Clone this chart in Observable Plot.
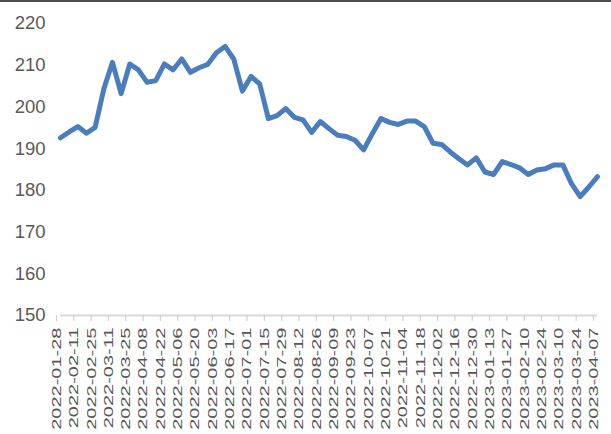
<!DOCTYPE html>
<html>
<head>
<meta charset="utf-8">
<script src="https://cdn.jsdelivr.net/npm/d3@7"></script>
<script src="https://cdn.jsdelivr.net/npm/@observablehq/plot@0.6"></script>
<style>
  html, body { margin: 0; padding: 0; background: #fff; }
  #wrap { position: relative; width: 611px; height: 434px; overflow: hidden; }
  #topline { position: absolute; left: 0; top: 0; width: 611px; height: 2px; background: #4d4d4d; }
</style>
</head>
<body>
<div id="wrap"><div id="topline"></div></div>
<script>
const dates = [
  "2022-01-28","2022-02-04","2022-02-11","2022-02-18","2022-02-25","2022-03-04","2022-03-11","2022-03-18",
  "2022-03-25","2022-04-01","2022-04-08","2022-04-15","2022-04-22","2022-04-29","2022-05-06","2022-05-13",
  "2022-05-20","2022-05-27","2022-06-03","2022-06-10","2022-06-17","2022-06-24","2022-07-01","2022-07-08",
  "2022-07-15","2022-07-22","2022-07-29","2022-08-05","2022-08-12","2022-08-19","2022-08-26","2022-09-02",
  "2022-09-09","2022-09-16","2022-09-23","2022-09-30","2022-10-07","2022-10-14","2022-10-21","2022-10-28",
  "2022-11-04","2022-11-11","2022-11-18","2022-11-25","2022-12-02","2022-12-09","2022-12-16","2022-12-23",
  "2022-12-30","2023-01-06","2023-01-13","2023-01-20","2023-01-27","2023-02-03","2023-02-10","2023-02-17",
  "2023-02-24","2023-03-03","2023-03-10","2023-03-17","2023-03-24","2023-03-31","2023-04-07"
];
const values = [
  192.6, 194.0, 195.3, 193.7, 195.1, 204.3, 210.7, 203.2,
  210.3, 208.9, 205.9, 206.3, 210.3, 208.9, 211.5, 208.3,
  209.4, 210.2, 213.0, 214.5, 211.5, 203.8, 207.3, 205.5,
  197.2, 197.9, 199.6, 197.5, 196.9, 193.9, 196.5, 194.8,
  193.2, 192.9, 192.0, 189.7, 193.6, 197.2, 196.3, 195.8,
  196.6, 196.6, 195.3, 191.3, 191.0, 189.2, 187.6, 186.1,
  187.8, 184.4, 183.8, 186.9, 186.2, 185.4, 183.8, 184.9,
  185.2, 186.1, 186.1, 181.6, 178.5, 180.8, 183.3
];
const tickLabels = [
  "2022-01-28","2022-02-11","2022-02-25","2022-03-11","2022-03-25","2022-04-08","2022-04-22","2022-05-06",
  "2022-05-20","2022-06-03","2022-06-17","2022-07-01","2022-07-15","2022-07-29","2022-08-12","2022-08-26",
  "2022-09-09","2022-09-23","2022-10-07","2022-10-21","2022-11-04","2022-11-18","2022-12-02","2022-12-16",
  "2022-12-30","2023-01-13","2023-01-27","2023-02-10","2023-02-24","2023-03-10","2023-03-24","2023-04-07"
];
const yTicks = [150, 160, 170, 180, 190, 200, 210, 220];

const data = dates.map((date, i) => ({date, value: values[i]}));

const chart = Plot.plot({
  width: 611,
  height: 434,
  marginLeft: 60,
  marginRight: 14,
  marginTop: 23,
  marginBottom: 119,
  style: {fontFamily: "'Liberation Sans', Arial, sans-serif", background: "transparent"},
  x: {type: "point", domain: dates, padding: 0},
  y: {domain: [150, 220]},
  marks: [
    Plot.axisY({ticks: yTicks, tickSize: 0, tickPadding: 15, fontSize: 18.5, fill: "#595959", label: null}),
    Plot.ruleY([150], {stroke: "#d9d9d9", strokeWidth: 2}),
    Plot.axisX({ticks: tickLabels, tickSize: 6, stroke: "#d0d0d0", strokeWidth: 1.2, tickRotate: -90, tickPadding: 6,
                fontSize: 20, fill: "#555555", label: null, dx: -4}),
    Plot.lineY(data, {x: "date", y: "value", stroke: "#4a7dbd", strokeWidth: 5, strokeLinejoin: "round", strokeLinecap: "round"})
  ]
});

document.getElementById("wrap").appendChild(chart);
chart.style.position = "absolute";
chart.style.left = "0";
chart.style.top = "0";

// condense the rotated x tick labels horizontally
chart.querySelectorAll('g[aria-label="x-axis tick label"] text').forEach(t => {
  const tr = t.getAttribute("transform") || "";
  t.setAttribute("transform", tr + " scale(1,0.68)");
});
</script>
</body>
</html>
